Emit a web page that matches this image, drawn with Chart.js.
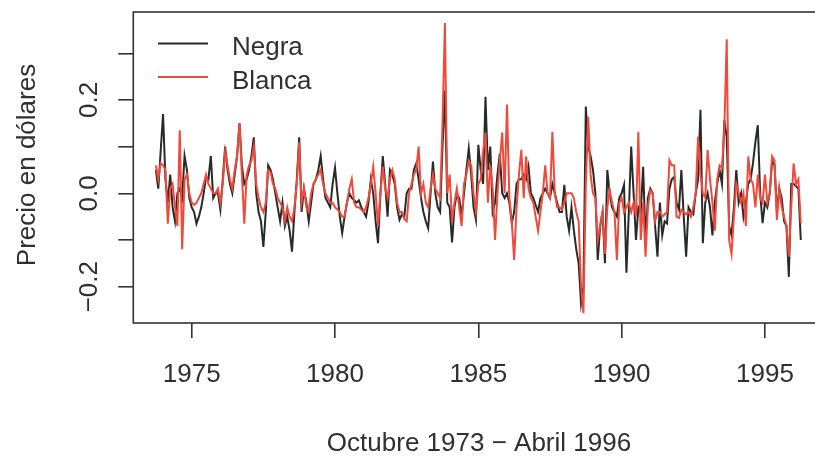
<!DOCTYPE html>
<html lang="es">
<head>
<meta charset="utf-8">
<title>Precio en dólares</title>
<script src="https://cdn.jsdelivr.net/npm/chart.js@4.4.1/dist/chart.umd.min.js"></script>
<style>
  html, body { margin: 0; padding: 0; background: #fff; overflow: hidden; }
  #marco { width: 815px; height: 463px; overflow: hidden; }
  canvas { display: block; }
</style>
</head>
<body>
<div id="marco"><canvas id="grafico" width="840" height="463"></canvas></div>
<script>
// serie mensual: octubre 1973 - abril 1996 (271 meses)
const inicio = 1973 + 9 / 12;

const negra = [
  0.05, 0.01, 0.09, 0.17, 0.03, -0.02, 0.04, -0.03, -0.06, 0.00,
  0.01, -0.01, 0.08, 0.05, -0.01, -0.03, -0.04, -0.065, -0.05, -0.03,
  0.00, 0.035, 0.03, 0.08, -0.01, 0.00, 0.00, -0.035, 0.03, 0.10,
  0.05, 0.02, 0.00, 0.04, 0.08, 0.15, 0.06, 0.02, 0.03, 0.05,
  0.08, 0.12, 0.00, -0.04, -0.06, -0.115, -0.04, 0.06, 0.05, 0.03,
  0.00, -0.03, -0.06, -0.02, -0.07, -0.05, -0.08, -0.125, -0.04, 0.03,
  0.12, -0.04, 0.01, -0.02, -0.06, -0.02, 0.02, 0.03, 0.05, 0.08,
  0.03, -0.01, -0.02, -0.03, 0.02, 0.055, 0.00, -0.05, -0.085, -0.05,
  -0.02, 0.00, -0.01, -0.015, -0.02, -0.015, -0.03, -0.04, -0.05, -0.02,
  0.03, 0.00, -0.06, -0.107, 0.00, 0.08, 0.02, -0.05, 0.05, 0.04,
  0.02, -0.03, -0.057, -0.045, -0.05, 0.00, 0.01, 0.01, 0.05, 0.064,
  0.03, -0.01, -0.04, -0.06, -0.075, 0.00, 0.068, 0.00, -0.03, -0.04,
  0.10, 0.22, -0.02, -0.03, -0.105, -0.03, 0.00, -0.01, -0.05, 0.00,
  0.05, 0.096, 0.04, -0.03, -0.057, 0.104, 0.05, 0.02, 0.207, 0.05,
  0.10, -0.04, -0.02, 0.04, 0.085, 0.00, -0.01, 0.00, -0.02, -0.064,
  -0.04, 0.02, 0.03, 0.03, 0.04, 0.03, 0.057, 0.00, -0.01, -0.025,
  -0.04, -0.01, 0.00, 0.01, 0.00, -0.01, 0.02, 0.00, -0.02, -0.04,
  -0.04, 0.018, -0.05, -0.08, -0.03, -0.08, -0.12, -0.15, -0.236, -0.20,
  0.186, 0.10, 0.08, 0.05, 0.00, -0.143, -0.07, -0.04, -0.15, 0.05,
  0.00, -0.03, -0.04, -0.05, -0.01, 0.00, 0.018, -0.17, -0.04, 0.10,
  0.00, -0.10, -0.03, -0.04, 0.057, -0.10, -0.01, 0.01, 0.00, -0.07,
  -0.136, -0.02, -0.09, -0.06, -0.065, 0.01, 0.03, 0.035, -0.02, -0.035,
  0.05, -0.05, -0.136, -0.03, -0.04, -0.045, 0.00, 0.03, 0.179, -0.107,
  -0.02, 0.00, -0.03, -0.09, -0.02, 0.02, 0.05, 0.02, 0.157, 0.12,
  -0.07, -0.09, -0.03, 0.05, -0.02, 0.00, -0.05, -0.02, 0.02, 0.03,
  0.065, 0.11, 0.146, 0.00, -0.064, -0.02, -0.03, 0.00, 0.07, 0.06,
  -0.04, 0.01, -0.01, -0.06, -0.07, -0.179, 0.02, 0.02, 0.015, 0.01,
  -0.10
];

const blanca = [
  0.06, 0.03, 0.065, 0.06, 0.05, -0.065, 0.01, 0.02, -0.03, -0.07,
  0.135, -0.12, 0.03, 0.04, 0.00, -0.02, -0.025, -0.02, -0.01, 0.00,
  0.02, 0.04, 0.02, 0.01, 0.00, 0.00, 0.01, -0.02, 0.02, 0.09,
  0.06, 0.03, 0.01, 0.05, 0.08, 0.15, 0.04, -0.065, 0.04, 0.06,
  0.07, 0.10, 0.02, -0.01, -0.03, -0.04, -0.02, 0.05, 0.045, 0.02,
  0.01, -0.01, -0.02, -0.03, -0.06, -0.03, -0.05, -0.06, -0.03, 0.02,
  0.11, -0.02, 0.01, -0.03, -0.04, 0.00, 0.02, 0.03, 0.04, 0.05,
  0.02, 0.00, -0.01, -0.02, -0.02, -0.03, -0.035, -0.04, -0.05, -0.05,
  -0.02, 0.01, 0.03, -0.02, -0.03, -0.03, -0.035, -0.04, -0.03, -0.01,
  0.02, 0.057, 0.00, -0.07, 0.00, 0.057, 0.01, -0.01, 0.03, 0.05,
  0.03, -0.02, -0.04, -0.04, -0.055, -0.06, 0.00, 0.02, 0.04, 0.05,
  0.10, 0.00, 0.02, -0.02, -0.03, 0.01, 0.04, 0.01, 0.00, -0.01,
  0.15, 0.365, 0.00, 0.04, -0.06, -0.02, 0.01, -0.03, -0.07, 0.02,
  0.04, 0.07, 0.06, 0.00, -0.04, 0.02, 0.03, 0.09, 0.13, -0.02,
  0.06, 0.01, -0.10, 0.00, 0.07, 0.13, 0.00, 0.19, -0.01, -0.06,
  -0.143, -0.03, 0.04, 0.093, -0.01, 0.079, 0.01, -0.01, -0.02, -0.05,
  -0.08, -0.04, 0.00, 0.06, 0.00, -0.01, 0.132, 0.00, -0.03, -0.03,
  -0.035, -0.02, 0.00, 0.00, 0.00, -0.01, -0.04, -0.06, -0.20, -0.257,
  0.02, 0.164, 0.04, 0.00, -0.01, -0.10, -0.07, -0.04, -0.13, -0.03,
  0.007, -0.02, -0.04, -0.143, -0.02, -0.01, -0.04, -0.03, -0.02, -0.04,
  -0.02, -0.05, 0.132, -0.10, -0.02, -0.136, -0.03, 0.007, 0.00, -0.06,
  -0.04, -0.04, -0.05, -0.045, -0.04, 0.071, 0.06, 0.06, -0.05, -0.053,
  -0.035, -0.04, -0.045, -0.04, -0.05, -0.03, 0.00, 0.121, 0.04, 0.00,
  -0.01, 0.093, 0.03, -0.02, -0.08, 0.03, 0.06, 0.055, 0.14, 0.33,
  -0.10, -0.13, -0.05, 0.02, 0.00, -0.02, 0.00, -0.07, 0.079, 0.03,
  0.02, -0.03, 0.04, -0.01, -0.02, 0.04, -0.02, 0.00, 0.079, 0.07,
  -0.057, 0.01, -0.03, -0.05, -0.07, -0.136, -0.03, 0.064, 0.02, 0.03,
  -0.064
];

const ticksX = [1975, 1980, 1985, 1990, 1995];
const ticksY = [-0.2, -0.1, 0.0, 0.1, 0.2, 0.3];
const etiquetasY = [-0.2, 0.0, 0.2];

const tituloX = "Octubre 1973 \u2212 Abril 1996";
const tituloY = "Precio en dólares";

const colorNegra = "#272b28";
const colorBlanca = "#ef4a3c";
const colorTexto = "#303030";
const fuente = "26px 'Liberation Sans', Arial, sans-serif";

// meses -> años decimales
const aPuntos = serie => serie.map((v, i) => ({ x: inicio + i / 12, y: v }));

function textoNum(v) {
  const s = Math.abs(v).toFixed(1);
  return v < 0 ? "\u2212" + s : s;
}

// caja, etiquetas del eje y, títulos y leyenda al estilo de R
const marcoR = {
  id: "marcoR",
  afterDraw(chart) {
    const ctx = chart.ctx;
    const area = chart.chartArea;
    const ey = chart.scales.y;

    ctx.save();
    ctx.strokeStyle = "#333";
    ctx.lineWidth = 1.6;
    ctx.strokeRect(area.left, area.top, area.right - area.left, area.bottom - area.top);

    ctx.fillStyle = colorTexto;
    ctx.font = fuente;

    // etiquetas del eje y, giradas
    etiquetasY.forEach(v => {
      const py = ey.getPixelForValue(v);
      ctx.save();
      ctx.translate(90, py);
      ctx.rotate(-Math.PI / 2);
      ctx.textAlign = "center";
      ctx.textBaseline = "middle";
      ctx.fillText(textoNum(v), 0, 0);
      ctx.restore();
    });

    // título del eje y
    ctx.save();
    ctx.translate(35, 165);
    ctx.rotate(-Math.PI / 2);
    ctx.textAlign = "center";
    ctx.textBaseline = "alphabetic";
    ctx.fillText(tituloY, 0, 0);
    ctx.restore();

    // título del eje x
    ctx.textAlign = "center";
    ctx.textBaseline = "alphabetic";
    ctx.fillText(tituloX, 479, 451);

    // leyenda
    chart.data.datasets.forEach((ds, i) => {
      const yl = 43.5 + i * 33.5;
      ctx.strokeStyle = ds.borderColor;
      ctx.lineWidth = 2;
      ctx.beginPath();
      ctx.moveTo(158, yl);
      ctx.lineTo(208, yl);
      ctx.stroke();
      ctx.textAlign = "left";
      ctx.fillText(ds.label, 232, yl + 11.5);
    });
    ctx.restore();
  }
};

new Chart(document.getElementById("grafico"), {
  type: "line",
  data: {
    datasets: [
      {
        label: "Negra",
        data: aPuntos(negra),
        borderColor: colorNegra,
        borderWidth: 2,
        pointRadius: 0,
        tension: 0,
        order: 2
      },
      {
        label: "Blanca",
        data: aPuntos(blanca),
        borderColor: colorBlanca,
        borderWidth: 2,
        pointRadius: 0,
        tension: 0,
        order: 1
      }
    ]
  },
  options: {
    responsive: false,
    animation: false,
    devicePixelRatio: 1,
    layout: { padding: { top: 12, right: 16, left: 0, bottom: 0 } },
    plugins: {
      legend: { display: false },
      tooltip: { enabled: false }
    },
    scales: {
      x: {
        type: "linear",
        position: "bottom",
        min: 1972.962,
        max: 1997.06,
        afterBuildTicks: s => { s.ticks = ticksX.map(v => ({ value: v })); },
        afterFit: s => { s.height = 140; },
        border: { display: false },
        grid: {
          drawOnChartArea: false,
          drawTicks: true,
          tickLength: 15,
          color: "#333",
          lineWidth: 1.6
        },
        ticks: {
          padding: 21,
          color: colorTexto,
          font: { family: "'Liberation Sans', Arial, sans-serif", size: 26 },
          maxRotation: 0,
          autoSkip: false,
          callback: v => String(v)
        }
      },
      y: {
        type: "linear",
        min: -0.2779,
        max: 0.3885,
        afterBuildTicks: s => { s.ticks = ticksY.map(v => ({ value: v })); },
        afterFit: s => { s.width = 133.3; },
        border: { display: false },
        grid: {
          drawOnChartArea: false,
          drawTicks: true,
          tickLength: 15,
          color: "#333",
          lineWidth: 1.6
        },
        ticks: { display: false }
      }
    }
  },
  plugins: [marcoR]
});
</script>
</body>
</html>
